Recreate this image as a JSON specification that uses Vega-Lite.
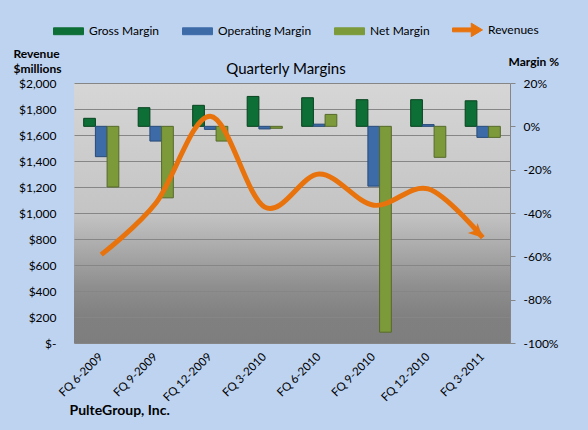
{
  "$schema": "https://vega.github.io/schema/vega-lite/v6.json",
  "width": 436,
  "height": 260,
  "autosize": {"type": "none"},
  "padding": {"left": 74, "top": 83, "right": 78, "bottom": 87},
  "background": "#bdd3f0",
  "title": {
    "text": "Quarterly Margins",
    "anchor": "middle",
    "frame": "group",
    "font": "Lato",
    "fontSize": 15,
    "fontWeight": "normal",
    "color": "#000000",
    "baseline": "alphabetic",
    "offset": 0,
    "dx": -6,
    "dy": 75
  },
  "config": {
    "font": "Lato",
    "view": {
      "stroke": null,
      "fill": {
        "gradient": "linear",
        "x1": 0, "y1": 0, "x2": 0, "y2": 1,
        "stops": [
          {"offset": 0, "color": "#d6d6d6"},
          {"offset": 0.5, "color": "#c4c4c4"},
          {"offset": 0.78, "color": "#8f8f8f"},
          {"offset": 0.9, "color": "#808080"},
          {"offset": 1, "color": "#7e7e7e"}
        ]
      }
    },
    "legend": {
      "orient": "none",
      "legendX": -21,
      "legendY": -69,
      "direction": "horizontal",
      "padding": 0,
      "symbolSize": 900,
      "labelFont": "Lato",
      "labelFontSize": 12,
      "labelColor": "#000000",
      "labelOffset": 5,
      "columnPadding": 20
    }
  },
  "datasets": {
    "margins": [
      {"quarter": "FQ 6-2009", "series": "Gross Margin", "margin": 3.7},
      {"quarter": "FQ 6-2009", "series": "Operating Margin", "margin": -14},
      {"quarter": "FQ 6-2009", "series": "Net Margin", "margin": -28},
      {"quarter": "FQ 9-2009", "series": "Gross Margin", "margin": 8.6},
      {"quarter": "FQ 9-2009", "series": "Operating Margin", "margin": -6.8},
      {"quarter": "FQ 9-2009", "series": "Net Margin", "margin": -33},
      {"quarter": "FQ 12-2009", "series": "Gross Margin", "margin": 9.7},
      {"quarter": "FQ 12-2009", "series": "Operating Margin", "margin": -1.4},
      {"quarter": "FQ 12-2009", "series": "Net Margin", "margin": -6.8},
      {"quarter": "FQ 3-2010", "series": "Gross Margin", "margin": 13.8},
      {"quarter": "FQ 3-2010", "series": "Operating Margin", "margin": -1.2},
      {"quarter": "FQ 3-2010", "series": "Net Margin", "margin": -0.9},
      {"quarter": "FQ 6-2010", "series": "Gross Margin", "margin": 13.2},
      {"quarter": "FQ 6-2010", "series": "Operating Margin", "margin": 1},
      {"quarter": "FQ 6-2010", "series": "Net Margin", "margin": 5.5},
      {"quarter": "FQ 9-2010", "series": "Gross Margin", "margin": 12.3},
      {"quarter": "FQ 9-2010", "series": "Operating Margin", "margin": -27.6},
      {"quarter": "FQ 9-2010", "series": "Net Margin", "margin": -95},
      {"quarter": "FQ 12-2010", "series": "Gross Margin", "margin": 12.3},
      {"quarter": "FQ 12-2010", "series": "Operating Margin", "margin": 0.8},
      {"quarter": "FQ 12-2010", "series": "Net Margin", "margin": -14.3},
      {"quarter": "FQ 3-2011", "series": "Gross Margin", "margin": 11.8},
      {"quarter": "FQ 3-2011", "series": "Operating Margin", "margin": -5.1},
      {"quarter": "FQ 3-2011", "series": "Net Margin", "margin": -5.1}
    ],
    "revenues": [
      {"quarter": "FQ 6-2009", "revenue": 680},
      {"quarter": "FQ 9-2009", "revenue": 1075},
      {"quarter": "FQ 12-2009", "revenue": 1745},
      {"quarter": "FQ 3-2010", "revenue": 1045},
      {"quarter": "FQ 6-2010", "revenue": 1300},
      {"quarter": "FQ 9-2010", "revenue": 1060},
      {"quarter": "FQ 12-2010", "revenue": 1185},
      {"quarter": "FQ 3-2011", "revenue": 810}
    ]
  },
  "encoding": {
    "x": {
      "field": "quarter",
      "type": "nominal",
      "sort": ["FQ 6-2009", "FQ 9-2009", "FQ 12-2009", "FQ 3-2010", "FQ 6-2010", "FQ 9-2010", "FQ 12-2010", "FQ 3-2011"],
      "scale": {"paddingInner": 0.355, "paddingOuter": 0.1775},
      "axis": {
        "orient": "bottom",
        "labelAngle": -45,
        "labelAlign": "right",
        "labelBaseline": "middle",
        "labelPadding": 12,
        "ticks": false,
        "tickSize": 0,
        "domain": true,
        "domainColor": "#868686",
        "labelFont": "Lato",
        "labelFontSize": 11.5,
        "labelColor": "#000000",
        "title": "PulteGroup, Inc.",
        "titleAngle": 0,
        "titleX": -5,
        "titleY": 71,
        "titleAlign": "left",
        "titleBaseline": "alphabetic",
        "titleFont": "Lato",
        "titleFontSize": 14,
        "titleFontWeight": "bold",
        "titleColor": "#000000"
      }
    }
  },
  "layer": [
    {
      "data": {"name": "margins"},
      "mark": {"type": "bar", "strokeWidth": 1},
      "encoding": {
        "xOffset": {
          "field": "series",
          "type": "nominal",
          "sort": ["Gross Margin", "Operating Margin", "Net Margin"],
          "scale": {"paddingInner": 0, "paddingOuter": 0}
        },
        "y": {
          "field": "margin",
          "type": "quantitative",
          "scale": {"domain": [-100, 20], "nice": false},
          "axis": {
            "orient": "right",
            "values": [-100, -80, -60, -40, -20, 0, 20],
            "labelExpr": "datum.value + '%'",
            "ticks": true,
            "tickSize": 5,
            "tickColor": "#868686",
            "domain": true,
            "domainColor": "#868686",
            "labelPadding": 8,
            "labelFlush": false,
            "labelOverlap": false,
            "grid": false,
            "labelFont": "Lato",
            "labelFontSize": 12,
            "labelColor": "#000000",
            "title": "Margin  %",
            "titleAngle": 0,
            "titleX": -2,
            "titleY": -18,
            "titleAlign": "left",
            "titleBaseline": "alphabetic",
            "titleFont": "Lato",
            "titleFontSize": 12,
            "titleFontWeight": "bold",
            "titleColor": "#000000"
          }
        },
        "color": {
          "field": "series",
          "type": "nominal",
          "scale": {
            "domain": ["Gross Margin", "Operating Margin", "Net Margin", "Revenues"],
            "range": ["#0d6e36", "#3d6ba8", "#7d9a3a", "#e8720c"]
          },
          "legend": {
            "title": null,
            "encode": {
              "symbols": {
                "update": {
                  "shape": {"signal": "datum.value === 'Revenues' ? 'M-1,-0.13H0.25V-0.45L1,0L0.25,0.45V0.13H-1Z' : 'M-1,-0.23H1V0.23H-1Z'"},
                  "fill": {"scale": "color", "field": "value"},
                  "stroke": {"signal": "datum.value === 'Gross Margin' ? '#07431f' : datum.value === 'Operating Margin' ? '#274a78' : datum.value === 'Net Margin' ? '#55692a' : 'transparent'"},
                  "strokeWidth": {"value": 1},
                  "opacity": {"value": 1}
                }
              }
            }
          }
        },
        "stroke": {
          "field": "series",
          "type": "nominal",
          "scale": {
            "domain": ["Gross Margin", "Operating Margin", "Net Margin"],
            "range": ["#07431f", "#274a78", "#55692a"]
          },
          "legend": null
        }
      }
    },
    {
      "data": {"name": "revenues"},
      "encoding": {
        "y": {
          "field": "revenue",
          "type": "quantitative",
          "scale": {"domain": [0, 2000], "nice": false},
          "axis": {
            "orient": "left",
            "values": [0, 200, 400, 600, 800, 1000, 1200, 1400, 1600, 1800, 2000],
            "labelExpr": "datum.value === 0 ? '$-' : '$' + format(datum.value, ',')",
            "ticks": false,
            "domain": false,
            "labelPadding": 18,
            "labelFlush": false,
            "labelOverlap": false,
            "grid": true,
            "gridColor": "#868686",
            "gridWidth": 1,
            "gridOpacity": 1,
            "labelFont": "Lato",
            "labelFontSize": 12,
            "labelColor": "#000000",
            "title": ["Revenue", "$millions"],
            "titleAngle": 0,
            "titleX": -61,
            "titleY": -26,
            "titleAlign": "left",
            "titleBaseline": "alphabetic",
            "titleLineHeight": 15,
            "titleFont": "Lato",
            "titleFontSize": 12,
            "titleFontWeight": "bold",
            "titleColor": "#000000"
          }
        },
        "color": {"datum": "Revenues"}
      },
      "layer": [
        {
          "mark": {"type": "line", "interpolate": "cardinal", "strokeWidth": 5, "strokeCap": "butt", "strokeJoin": "round"}
        },
        {
          "transform": [{"filter": "datum.quarter === 'FQ 3-2011'"}],
          "mark": {
            "type": "point",
            "shape": "M0,0L0.55,1.1L0,0.8L-0.55,1.1Z",
            "angle": 134,
            "size": 650,
            "filled": true,
            "opacity": 1,
            "strokeWidth": 0
          }
        }
      ]
    }
  ],
  "resolve": {"scale": {"y": "independent"}}
}
